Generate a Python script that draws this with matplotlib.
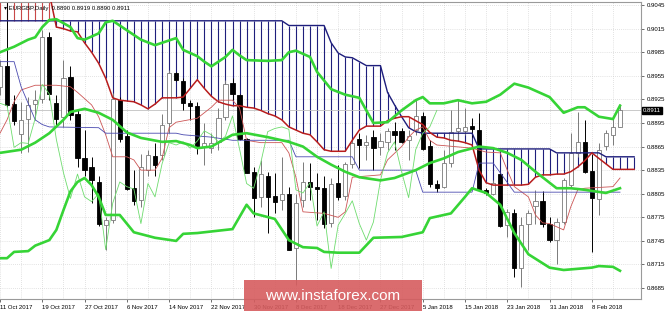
import matplotlib
matplotlib.use("Agg")
import matplotlib.pyplot as plt
import matplotlib.transforms as mtransforms
from matplotlib.patches import Rectangle
import numpy as np

# EURGBP daily candles, bar 0 = 11 Oct 2017
opens = [0.8941, 0.8967, 0.8919, 0.8881, 0.8900, 0.8919, 0.8925, 0.9004, 0.8921, 0.8903,
         0.8953, 0.8906, 0.8851, 0.8839, 0.8820, 0.8765, 0.8772, 0.8924, 0.8878, 0.8812,
         0.8797, 0.8835, 0.8853, 0.8854, 0.8895, 0.8959, 0.8949, 0.8920, 0.8917, 0.8864,
         0.8863, 0.8871, 0.8903, 0.8946, 0.8931, 0.8875, 0.8833, 0.8801, 0.8828, 0.8802,
         0.8797, 0.8805, 0.8736, 0.8797, 0.8820, 0.8813, 0.8812, 0.8768, 0.8819, 0.8802,
         0.8843, 0.8875, 0.8867, 0.8877, 0.8864, 0.8871, 0.8885, 0.8885, 0.8873, 0.8886,
         0.8904, 0.8866, 0.8817, 0.8814, 0.8844, 0.8885, 0.8885, 0.8891, 0.8886, 0.8810,
         0.8805, 0.8830, 0.8765, 0.8781, 0.8710, 0.8766, 0.8789, 0.8796, 0.8767, 0.8746,
         0.8769, 0.8816, 0.8857, 0.8871, 0.8834, 0.8798, 0.8866, 0.8880, 0.8890]
highs = [0.8975, 0.9049, 0.8931, 0.8922, 0.8928, 0.8937, 0.9013, 0.9011, 0.8931, 0.8975,
         0.8967, 0.8911, 0.8886, 0.8852, 0.8828, 0.8776, 0.8933, 0.8928, 0.8886, 0.8835,
         0.8856, 0.8861, 0.8869, 0.8907, 0.8962, 0.8960, 0.8952, 0.8924, 0.8922, 0.8895,
         0.8882, 0.8914, 0.8950, 0.8952, 0.8932, 0.8876, 0.8839, 0.8848, 0.8833, 0.8831,
         0.8852, 0.8814, 0.8805, 0.8846, 0.8844, 0.8831, 0.8827, 0.8825, 0.8842, 0.8846,
         0.8873, 0.8882, 0.8880, 0.8886, 0.8882, 0.8889, 0.8896, 0.8889, 0.8886, 0.8924,
         0.8909, 0.8873, 0.8822, 0.8861, 0.8912, 0.8926, 0.8914, 0.8901, 0.8908, 0.8812,
         0.8822, 0.8833, 0.8786, 0.8786, 0.8776, 0.8784, 0.8810, 0.8808, 0.8776, 0.8774,
         0.8825, 0.8882, 0.8909, 0.8899, 0.8856, 0.8869, 0.8886, 0.8903, 0.8919]
lows = [0.8931, 0.8915, 0.8892, 0.8857, 0.8858, 0.8899, 0.8920, 0.8924, 0.8890, 0.8890,
        0.8899, 0.8839, 0.8827, 0.8793, 0.8764, 0.8733, 0.8768, 0.8871, 0.8810, 0.8791,
        0.8788, 0.8827, 0.8827, 0.8848, 0.8882, 0.8949, 0.8911, 0.8899, 0.8856, 0.8842,
        0.8857, 0.8861, 0.8899, 0.8924, 0.8873, 0.8831, 0.8776, 0.8788, 0.8755, 0.8780,
        0.8784, 0.8733, 0.8689, 0.8788, 0.8797, 0.8771, 0.8761, 0.8763, 0.8797, 0.8797,
        0.8838, 0.8838, 0.8848, 0.8835, 0.8854, 0.8861, 0.8861, 0.8870, 0.8848, 0.8880,
        0.8861, 0.8814, 0.8807, 0.8812, 0.8839, 0.8873, 0.8880, 0.8877, 0.8808, 0.8803,
        0.8803, 0.8763, 0.8750, 0.8699, 0.8687, 0.8733, 0.8767, 0.8763, 0.8744, 0.8716,
        0.8767, 0.8814, 0.8852, 0.8831, 0.8731, 0.8778, 0.8861, 0.8867, 0.8890]
closes = [0.8967, 0.8918, 0.8897, 0.8899, 0.8918, 0.8924, 0.9004, 0.8932, 0.8900, 0.8952,
          0.8905, 0.8850, 0.8835, 0.8822, 0.8767, 0.8772, 0.8925, 0.8875, 0.8811, 0.8796,
          0.8839, 0.8854, 0.8841, 0.8893, 0.8958, 0.8950, 0.8920, 0.8917, 0.8864, 0.8870,
          0.8869, 0.8901, 0.8944, 0.8932, 0.8874, 0.8832, 0.8799, 0.8830, 0.8801, 0.8795,
          0.8805, 0.8734, 0.8793, 0.8820, 0.8814, 0.8811, 0.8767, 0.8818, 0.8801, 0.8843,
          0.8870, 0.8867, 0.8871, 0.8863, 0.8872, 0.8885, 0.8880, 0.8871, 0.8878, 0.8904,
          0.8862, 0.8818, 0.8812, 0.8844, 0.8884, 0.8888, 0.8890, 0.8887, 0.8810, 0.8806,
          0.8819, 0.8764, 0.8782, 0.8710, 0.8765, 0.8780, 0.8796, 0.8767, 0.8746, 0.8769,
          0.8822, 0.8857, 0.8871, 0.8833, 0.8800, 0.8861, 0.8882, 0.8890, 0.8911]

date_labels = ["11 Oct 2017", "19 Oct 2017", "27 Oct 2017", "6 Nov 2017", "14 Nov 2017",
               "22 Nov 2017", "30 Nov 2017", "8 Dec 2017", "18 Dec 2017", "27 Dec 2017",
               "5 Jan 2018", "15 Jan 2018", "23 Jan 2018", "31 Jan 2018", "8 Feb 2018"]

# Ichimoku cloud spans, one value per bar (bars 0..90)
senkou_a = [0.9060, 0.9060, 0.9060, 0.9060, 0.9060, 0.9060, 0.9060, 0.9060, 0.9017, 0.9015,
            0.9012, 0.9011, 0.8997, 0.8985, 0.8971, 0.8952, 0.8927, 0.8924, 0.8923, 0.8922,
            0.8918, 0.8913, 0.8919, 0.8927, 0.8927, 0.8927, 0.8928, 0.8939, 0.8950, 0.8939,
            0.8929, 0.8922, 0.8919, 0.8917, 0.8917, 0.8915, 0.8914, 0.8911, 0.8907, 0.8904,
            0.8899, 0.8890, 0.8886, 0.8882, 0.8880, 0.8871, 0.8861, 0.8859, 0.8859, 0.8859,
            0.8873, 0.8886, 0.8891, 0.8891, 0.8891, 0.8898, 0.8901, 0.8903, 0.8903, 0.8898,
            0.8893, 0.8883, 0.8877, 0.8876, 0.8873, 0.8872, 0.8870, 0.8867, 0.8835, 0.8819,
            0.8816, 0.8816, 0.8816, 0.8816, 0.8816, 0.8817, 0.8826, 0.8829, 0.8829, 0.8830,
            0.8830, 0.8833, 0.8839, 0.8847, 0.8857, 0.8850, 0.8843, 0.8836, 0.8836, 0.8836,
            0.8836]
senkou_b = [0.9025] * 41 + [0.9019] * 6 + [
            0.8997, 0.8984, 0.8979, 0.8978, 0.8973, 0.8968, 0.8968, 0.8968, 0.8934, 0.8918,
            0.8903, 0.8889, 0.8884] + [0.8882] * 8 + [0.8862] * 11 + [0.8857] * 7 + [0.8852] * 5

tenkan_x = [0, 1, 2, 3, 5, 8, 10, 11, 13, 14, 15, 16, 18, 19, 20, 22, 23, 24, 25, 28, 30, 31,
            33, 34, 35, 37, 40, 41, 42, 43, 46, 48, 49, 50, 54, 55, 57, 58, 59, 60, 61, 62,
            67, 69, 71, 72, 73, 75, 76, 77, 78, 80, 81, 82, 83, 87, 88]
tenkan_y = [0.8882, 0.8899, 0.8922, 0.8937, 0.8943, 0.8943, 0.8941, 0.8934, 0.8918, 0.8903,
            0.8880, 0.8852, 0.8852, 0.8848, 0.8835, 0.8835, 0.8850, 0.8889, 0.8896, 0.8901,
            0.8915, 0.8924, 0.8924, 0.8914, 0.8873, 0.8870, 0.8870, 0.8857, 0.8826, 0.8782,
            0.8780, 0.8775, 0.8782, 0.8826, 0.8829, 0.8848, 0.8865, 0.8877, 0.8886, 0.8890,
            0.8873, 0.8867, 0.8863, 0.8858, 0.8857, 0.8835, 0.8814, 0.8801, 0.8778, 0.8768,
            0.8767, 0.8759, 0.8788, 0.8810, 0.8812, 0.8814, 0.8825]

kijun_x = [0, 2, 3, 5, 6, 7, 14, 15, 25, 26, 30, 33, 41, 42, 50, 51, 59, 60, 67, 68, 70, 73, 88]
kijun_y = [0.8973, 0.8973, 0.8941, 0.8899, 0.8893, 0.8890, 0.8889, 0.8882, 0.8882, 0.8880,
           0.8877, 0.8873, 0.8873, 0.8852, 0.8852, 0.8835, 0.8835, 0.8807, 0.8807, 0.8844,
           0.8844, 0.8807, 0.8807]

# Bollinger bands
bb_up_x = [0, 2, 4, 5, 6, 7, 8, 10, 11, 12, 14, 15, 16, 18, 20, 22, 23, 25, 26, 27, 28, 29,
           30, 31, 32, 33, 34, 35, 38, 40, 41, 42, 44, 45, 47, 49, 51, 52, 53, 55, 57, 59,
           60, 61, 63, 65, 67, 69, 71, 73, 75, 78, 80, 82, 83, 85, 87, 88]
bb_up_y = [0.8985, 0.8992, 0.9001, 0.9004, 0.9017, 0.9026, 0.9027, 0.9017, 0.9003, 0.9001,
           0.9009, 0.9023, 0.9025, 0.9013, 0.9001, 0.8994, 0.8997, 0.9003, 0.8988, 0.8984,
           0.8980, 0.8973, 0.8967, 0.8973, 0.8979, 0.8988, 0.8981, 0.8975, 0.8974, 0.8975,
           0.8985, 0.8987, 0.8979, 0.8960, 0.8938, 0.8931, 0.8927, 0.8911, 0.8895, 0.8896,
           0.8911, 0.8924, 0.8928, 0.8920, 0.8920, 0.8924, 0.8920, 0.8922, 0.8931, 0.8945,
           0.8940, 0.8928, 0.8908, 0.8915, 0.8915, 0.8903, 0.8900, 0.8917]
bb_mid_x = [0, 3, 5, 7, 9, 10, 12, 14, 16, 18, 20, 23, 25, 27, 28, 30, 33, 35, 38, 41, 43,
            45, 47, 49, 51, 54, 56, 59, 61, 63, 65, 68, 70, 72, 74, 76, 79, 81, 83, 86, 88]
bb_mid_y = [0.8857, 0.8861, 0.8870, 0.8882, 0.8899, 0.8909, 0.8913, 0.8908, 0.8899, 0.8883,
            0.8876, 0.8871, 0.8872, 0.8867, 0.8863, 0.8865, 0.8880, 0.8882, 0.8877, 0.8871,
            0.8865, 0.8852, 0.8842, 0.8833, 0.8826, 0.8822, 0.8825, 0.8835, 0.8844, 0.8850,
            0.8858, 0.8865, 0.8863, 0.8857, 0.8848, 0.8833, 0.8812, 0.8812, 0.8810, 0.8806,
            0.8812]
bb_low_x = [0, 1, 2, 4, 5, 7, 8, 9, 10, 11, 12, 13, 14, 15, 17, 19, 22, 25, 26, 28, 33, 35,
            36, 39, 41, 43, 45, 46, 48, 51, 53, 57, 60, 61, 64, 66, 67, 69, 71, 73, 75, 78,
            80, 84, 85, 87, 88]
bb_low_y = [0.8723, 0.8723, 0.8731, 0.8732, 0.8739, 0.8746, 0.8759, 0.8784, 0.8808, 0.8820,
            0.8825, 0.8816, 0.8801, 0.8778, 0.8778, 0.8756, 0.8749, 0.8745, 0.8754, 0.8755,
            0.8760, 0.8791, 0.8780, 0.8773, 0.8746, 0.8737, 0.8736, 0.8731, 0.8730, 0.8730,
            0.8749, 0.8750, 0.8756, 0.8774, 0.8780, 0.8801, 0.8812, 0.8806, 0.8791, 0.8755,
            0.8728, 0.8711, 0.8708, 0.8711, 0.8713, 0.8712, 0.8707]

price_ticks = [0.8685, 0.8715, 0.8745, 0.8775, 0.8805, 0.8835, 0.8865, 0.8895,
               0.8925, 0.8955, 0.8985, 0.9015, 0.9045]

FONT = ["Liberation Sans", "DejaVu Sans"]
NAVY = "#1e1e7c"
DKRED = "#b81c1c"
GREEN = "#36d436"

fig = plt.figure(figsize=(6.65, 3.11), dpi=100)
ax = fig.add_axes([0, 1 - 299 / 311, 641 / 665, 297 / 311])
ax.set_xlim(0.06, 90.98)
ax.set_ylim(0.86711, 0.90489)

# grid
ax.set_xticks(range(0, 85, 6))
ax.set_xticks(range(3, 91, 6), minor=True)
ax.set_yticks(price_ticks)
ax.grid(True, which="both", color="#c8c8c8", lw=0.5, ls=(0, (1, 2)))
ax.set_axisbelow(True)

# cloud hatch
n_cloud = len(senkou_a)
for i in range(n_cloud):
    a, b = senkou_a[i], senkou_b[i]
    col = NAVY if b >= a else "#c84848"
    ax.vlines(i, min(a, b), max(a, b), color=col, lw=0.8, zorder=1)

# candles
bars = np.arange(len(closes))
for i in bars:
    o, h, l, c = opens[i], highs[i], lows[i], closes[i]
    bull = c >= o
    edge = "#7a7a7a" if bull else "black"
    ax.vlines(i, l, h, color=edge, lw=0.7, zorder=2)
    lo, hi = min(o, c), max(o, c)
    ax.add_patch(Rectangle((i - 0.3, lo), 0.6, max(hi - lo, 0.00003),
                           facecolor="white" if bull else "black",
                           edgecolor=edge, lw=0.6, zorder=2.5))

# ichimoku lines
ax.plot(range(n_cloud), senkou_b, color=NAVY, lw=1.0, zorder=3)
ax.plot(range(n_cloud), senkou_a, color=DKRED, lw=1.1, zorder=3)
ax.plot(tenkan_x, tenkan_y, color="#cc5555", lw=0.6, zorder=3)
ax.plot(kijun_x, kijun_y, color="#4a4ab0", lw=0.6, zorder=3)
ax.plot(bars[:-26], closes[26:], color="#6edc6e", lw=0.6, zorder=3)

# bollinger bands
for bx, by in [(bb_up_x, bb_up_y), (bb_mid_x, bb_mid_y), (bb_low_x, bb_low_y)]:
    ax.plot(bx, by, color=GREEN, lw=1.9, zorder=4, solid_joinstyle="round")

# bid line
ax.axhline(closes[-1], color="#c0c0c0", lw=0.6, zorder=1.5)

# axes styling
for s in ["left"]:
    ax.spines[s].set_visible(False)
for s in ["top", "right", "bottom"]:
    ax.spines[s].set_color("#9a9a9a")
    ax.spines[s].set_linewidth(0.8)
ax.yaxis.tick_right()
ax.set_yticklabels([f"{p:.4f}" for p in price_ticks], fontsize=4.3, family=FONT)
ax.set_xticklabels(date_labels, fontsize=4.3, family=FONT, ha="left")
ax.tick_params(axis="y", which="major", length=2.5, width=0.6, pad=1.5, color="#555555")
ax.tick_params(axis="x", which="major", length=2.5, width=0.6, pad=1.5, color="#555555")
ax.tick_params(axis="x", which="minor", length=0)

# current price tag
trans = mtransforms.blended_transform_factory(ax.transAxes, ax.transData)
ax.text(1.003, closes[-1], f"{closes[-1]:.4f}", transform=trans, fontsize=4.3, family=FONT,
        color="white", va="center", ha="left",
        bbox=dict(boxstyle="square,pad=0.15", fc="black", ec="black"), zorder=6)

# header
ax.text(0.006, 0.988, "\u25BE EURGBP,Daily  0.8890 0.8919 0.8890 0.8911", transform=ax.transAxes,
        fontsize=4.3, family=FONT, color="black", va="top", ha="left", zorder=6)

# watermark
fig.patches.append(Rectangle((244 / 665, 0), 178 / 665, 31 / 311, transform=fig.transFigure,
                             facecolor="#d65c5e", alpha=0.9, edgecolor="none", zorder=10))
fig.text(333 / 665, 15 / 311, "www.instaforex.com", color="white", fontsize=11,
         family=FONT, ha="center", va="center", zorder=11)

fig.savefig("out.png", dpi=100)
